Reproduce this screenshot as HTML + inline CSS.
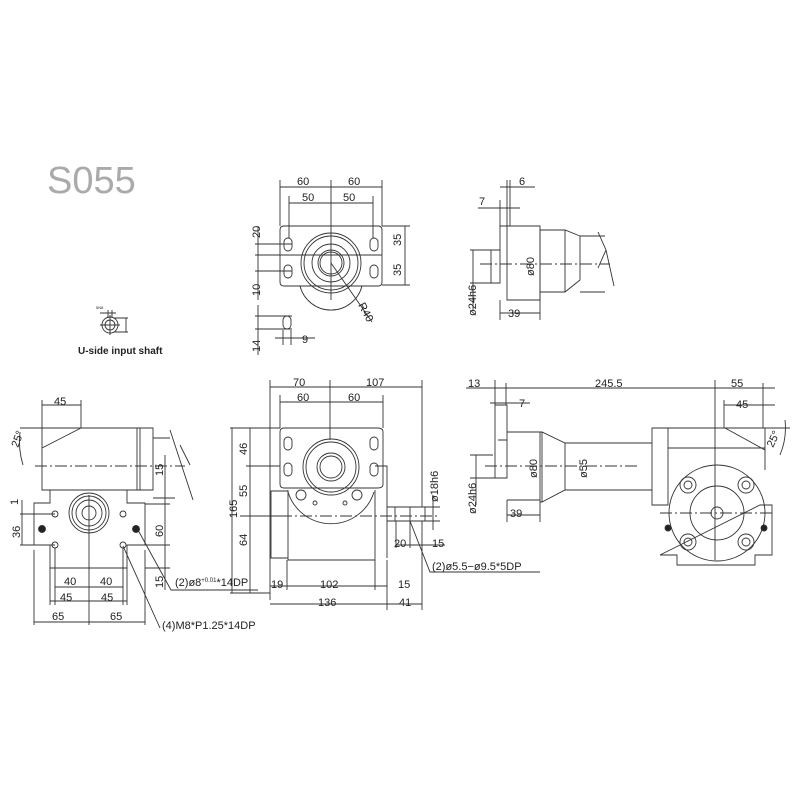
<!DOCTYPE html>
<html><head><meta charset="utf-8"><style>
html,body{margin:0;padding:0;background:#fff}
svg{display:block}
text{font-family:"Liberation Sans",sans-serif;fill:#222;font-size:11px}
</style></head><body>
<svg width="800" height="800" viewBox="0 0 800 800" xmlns="http://www.w3.org/2000/svg">
<g fill="none" stroke="#333" stroke-width="0.9">
<path d="M284 226 H378 Q382 226 382 230 V282 Q382 286 378 286 H284 Q280 286 280 282 V230 Q280 226 284 226 Z"/>
<path d="M300 286 A32 32 0 0 0 362 286"/>
<circle cx="331" cy="263" r="30"/><circle cx="331" cy="263" r="27"/><circle cx="331" cy="263" r="19"/><circle cx="331" cy="263" r="13"/><circle cx="331" cy="263" r="11"/>
<rect x="284" y="238" width="8" height="13" rx="4"/><rect x="284" y="265" width="8" height="13" rx="4"/>
<rect x="370" y="238" width="8" height="13" rx="4"/><rect x="370" y="265" width="8" height="13" rx="4"/>
<path d="M280 255 H382 M280 180 V226 M382 180 V226 M331 180 V300 M289 196 V238 M373 196 V238 M280 187 H382 M289 203 H373 M382 226 H410 M382 285 H410 M405 226 V285 M255 244 H292 M255 255 H292 M255 271 H292 M258 226 V300 M331 263 L372 322"/>
<rect x="283" y="316" width="8" height="13" rx="4"/>
<path d="M255 316 H292 M255 329 H292 M258 305 V355 M283 330 V345 M291 330 V345 M275 338 H315"/>
<path d="M500 226 H507 V300 H540 V292 H565 L580 280 V236 L565 230 H540 V226 H507 M500 226 V283 H491 V250 H500 M540 230 V300 M565 230 V292 M580 236 H605 M580 292 H605 M598 232 L606 250 L598 268 M606 250 L614 286"/>
<path d="M500 200 V226 M507 180 V226 M510 180 V226 M478 208 H520 M500 187 H535 M491 250 H470 M491 283 H470 M473 250 V310 M500 300 V320 M540 300 V320 M500 313 H540 M540 230 V300"/>
<path d="M480 264 H610" stroke-dasharray="12 3 2 3"/>
<path d="M42 428 H153 V490 H42 Z M137 428 V490 M140 428 V490 M153 438 H170 M153 498 H175 M42 400 V428 M81 400 V428 M42 405 H81 M20 428 H42 M81 428 L42 448 M170 430 L193 500 M180 445 L190 465"/>
<path d="M50 490 H127 V503 H145 V545 H127 V568 H50 V545 H34 V503 H50 Z"/>
<path d="M20 432 A80 80 0 0 0 23 465"/>
<circle cx="89" cy="513" r="20"/><circle cx="89" cy="513" r="17"/><circle cx="89" cy="513" r="13"/><circle cx="89" cy="513" r="7"/>
<circle cx="55" cy="514" r="3"/><circle cx="123" cy="514" r="3"/><circle cx="55" cy="545" r="3"/><circle cx="123" cy="545" r="3"/>
<circle cx="42" cy="529" r="3.5" fill="#222"/><circle cx="136" cy="529" r="3.5" fill="#222"/>
<path d="M89 495 V625 M55 548 V605 M123 548 V605 M50 568 V605 M127 568 V605 M34 550 V625 M145 550 V625 M55 587 H123 M50 601 H127 M34 622 H145 M20 514 H55 M20 545 H55 M22 500 V545 M145 504 H170 M145 545 H170 M145 568 H170 M165 455 V590 M138 530 L171 590 H258 M123 546 L160 628"/>
<path d="M35 466 H185" stroke-dasharray="12 3 2 3"/>
<path d="M284 428 H378 Q383 428 383 432 V484 Q383 488 378 488 H284 Q280 488 280 484 V432 Q280 428 284 428 Z"/>
<path d="M288 492 A45 45 0 0 0 374 492"/>
<circle cx="331" cy="467" r="28"/><circle cx="331" cy="467" r="25"/><circle cx="331" cy="467" r="14"/><circle cx="331" cy="467" r="11"/>
<rect x="284" y="437" width="8" height="13" rx="4"/><rect x="284" y="463" width="8" height="13" rx="4"/>
<rect x="370" y="437" width="8" height="13" rx="4"/><rect x="370" y="463" width="8" height="13" rx="4"/>
<circle cx="301" cy="495" r="5"/><circle cx="357" cy="495" r="5"/><circle cx="315" cy="503" r="2"/><circle cx="345" cy="503" r="2"/>
<path d="M271 491 H288 V558 H271 Z M288 490 V560 H375 V490 M375 466 H387 V558 M387 507 H425 V521 H387 M395 507 V521 M410 507 V521"/>
<path d="M270 380 V600 M330 380 V440 M422 380 V507 M280 395 V428 M383 395 V428 M270 387 H422 M280 402 H383 M230 428 H280 M246 466 H280 M246 516 H280 M230 593 H270 M232 428 V593 M250 428 V593 M425 507 H440 M425 521 H440 M433 495 V530 M396 521 V548 M410 521 V548 M396 545 H445 M410 521 L430 572 H540 M287 560 V590 M375 560 V590 M387 560 V610 M422 521 V610 M270 586 H387 M270 604 H422"/>
<path d="M240 516 H440" stroke-dasharray="12 3 2 3"/>
<path d="M495 405 H507 V478 H495 Z M507 432 H540 V500 H507 M498 440 H507 M498 478 H493 M540 432 H542 L565 443 H652 V490 H565 L542 502 H540 M542 432 V502 M565 443 V490 M652 428 H668 V505 H652 Z"/>
<path d="M668 428 H765 V470 M668 448 H765 M725 428 L765 450"/>
<path d="M660 505 H668 M760 505 H772 V555 H755 V565 H677 V555 H660 Z"/>
<circle cx="717" cy="513" r="48"/><circle cx="717" cy="513" r="27"/><circle cx="717" cy="513" r="6"/>
<g><circle cx="688" cy="485" r="8"/><circle cx="688" cy="485" r="4"/><circle cx="746" cy="485" r="8"/><circle cx="746" cy="485" r="4"/><circle cx="688" cy="542" r="8"/><circle cx="688" cy="542" r="4"/><circle cx="746" cy="542" r="8"/><circle cx="746" cy="542" r="4"/></g>
<circle cx="668" cy="528" r="3" fill="#222"/><circle cx="764" cy="528" r="3" fill="#222"/>
<path d="M495 380 V405 M506 383 V405 M715 380 V560 M763 383 V428 M724 400 V428 M466 388 H775 M724 405 H775 M490 403 H530 M493 455 H470 M493 478 H470 M476 455 V505 M507 500 V522 M540 500 V522 M507 515 H540 M765 428 H790 M785 420 A70 70 0 0 1 780 455"/>
<path d="M485 466 H640 M660 513 H775" stroke-dasharray="12 3 2 3"/>
<circle cx="110" cy="325" r="8"/><circle cx="110" cy="325" r="5"/><path d="M100 325 H120 M110 315 V335 M108 310 V318 M112 310 V318 M100 313 H116 M114 318 H128 M114 332 H128 M126 318 V332"/>
</g>
<text x="47" y="193" style="font-size:38px;fill:#aaa">S055</text>
<text x="78" y="354" style="font-size:10px;font-weight:bold">U-side input shaft</text>
<text x="96" y="309" style="font-size:4px">5N8</text>
<g>
<text x="297" y="185">60</text><text x="348" y="185">60</text><text x="302" y="201">50</text><text x="343" y="201">50</text>
<text transform="translate(401,246) rotate(-90)">35</text><text transform="translate(401,276) rotate(-90)">35</text>
<text transform="translate(260,238) rotate(-90)">20</text><text transform="translate(260,296) rotate(-90)">10</text>
<text transform="translate(260,352) rotate(-90)">14</text><text x="302" y="343">9</text>
<text transform="translate(358,305) rotate(62)">R40</text>
<text x="479" y="205">7</text><text x="519" y="185">6</text><text x="508" y="317">39</text>
<text transform="translate(534,276) rotate(-90)">ø80</text><text transform="translate(476,316) rotate(-90)">ø24h6</text>
<text x="54" y="405">45</text><text transform="translate(18,448) rotate(-70)">25°</text>
<text transform="translate(163,476) rotate(-90)">15</text><text transform="translate(163,537) rotate(-90)">60</text><text transform="translate(163,588) rotate(-90)">15</text>
<text transform="translate(18,505) rotate(-90)">1</text><text transform="translate(20,538) rotate(-90)">36</text>
<text x="64" y="585">40</text><text x="100" y="585">40</text><text x="60" y="601">45</text><text x="101" y="601">45</text>
<text x="52" y="620">65</text><text x="110" y="620">65</text>
<text x="175" y="586">(2)ø8<tspan style="font-size:6px" dy="-4">+0.01</tspan><tspan dy="4">*14DP</tspan></text>
<text x="162" y="629">(4)M8*P1.25*14DP</text>
<text x="293" y="386">70</text><text x="366" y="386">107</text><text x="297" y="401">60</text><text x="348" y="401">60</text>
<text transform="translate(237,518) rotate(-90)">165</text><text transform="translate(247,455) rotate(-90)">46</text><text transform="translate(247,497) rotate(-90)">55</text><text transform="translate(247,546) rotate(-90)">64</text>
<text transform="translate(438,502) rotate(-90)">ø18h6</text>
<text x="394" y="547">20</text><text x="432" y="547">15</text><text x="432" y="570">(2)ø5.5−ø9.5*5DP</text>
<text x="271" y="588">19</text><text x="320" y="588">102</text><text x="398" y="588">15</text><text x="318" y="606">136</text><text x="399" y="606">41</text>
<text x="468" y="387">13</text><text x="519" y="407">7</text><text x="595" y="387">245.5</text><text x="731" y="387">55</text><text x="736" y="408">45</text>
<text transform="translate(537,478) rotate(-90)">ø80</text><text transform="translate(587,478) rotate(-90)">ø55</text>
<text transform="translate(476,514) rotate(-90)">ø24h6</text><text x="510" y="517">39</text>
<text transform="translate(773,448) rotate(-65)">25°</text>
</g>
</svg>
</body></html>
